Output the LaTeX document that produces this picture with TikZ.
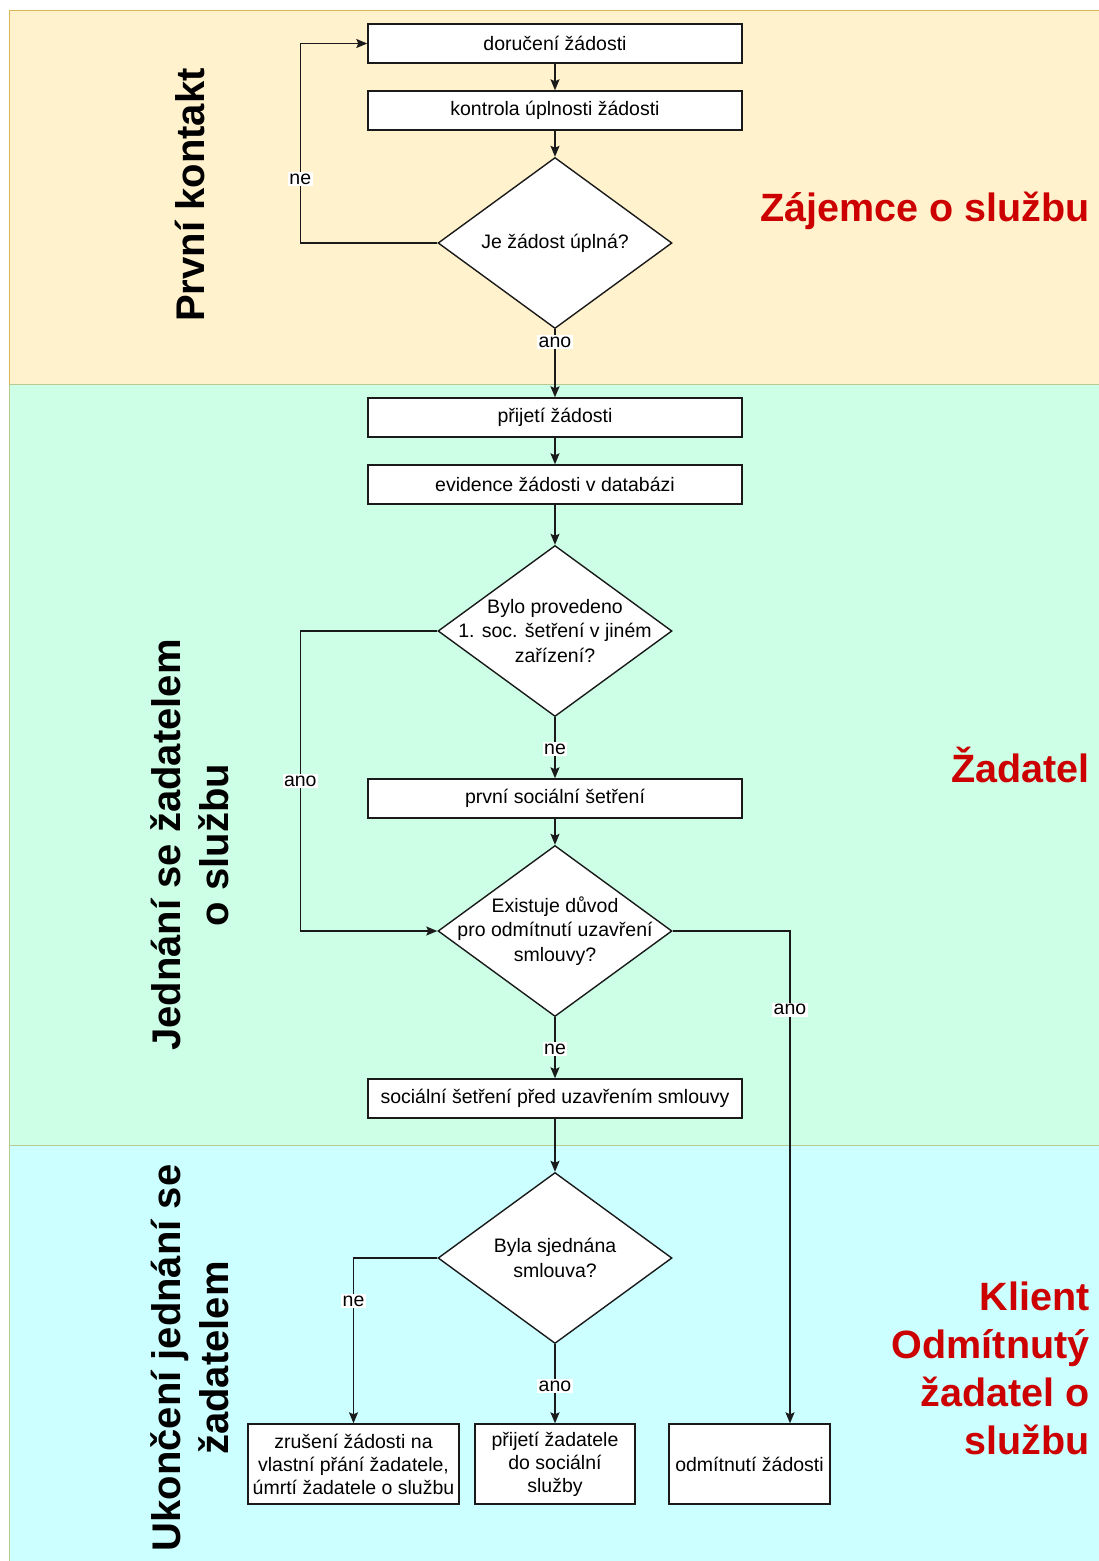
\documentclass[tikz,border=0pt]{standalone}
\usepackage{fontspec}
\setmainfont{Liberation Sans}
\usetikzlibrary{arrows.meta,shapes.geometric,positioning}
\definecolor{laneA}{HTML}{FFF2CC}
\definecolor{laneAline}{HTML}{D6B656}
\definecolor{laneB}{HTML}{CCFFE6}
\definecolor{laneC}{HTML}{CCFFFF}
\definecolor{laneline}{HTML}{B9C98F}
\definecolor{roletext}{HTML}{CC0000}
\definecolor{flowline}{HTML}{1A1A1A}

\begin{document}
\begin{tikzpicture}[x=1pt,y=-1pt,>={Stealth[length=11pt,width=9pt,inset=2pt]}]
  \tikzset{
    stepbox/.style={draw=flowline, line width=1.4pt, fill=white,
      minimum width=374pt, minimum height=39pt, inner sep=0pt,
      font=\fontsize{19.5}{23}\selectfont},
    endbox/.style={stepbox, minimum height=80pt, align=center},
    decision/.style={diamond, draw=flowline, line width=1.4pt, fill=white,
      minimum width=234pt, minimum height=171pt, inner sep=0pt},
    dtext/.style={align=center, font=\fontsize{19.5}{24.5}\selectfont},
    flow/.style={->, draw=flowline, line width=1.4pt},
    answer/.style={fill=white, inner sep=1.5pt, font=\fontsize{19.5}{23}\selectfont},
    lanetitle/.style={rotate=90, align=center,
      font=\bfseries\fontsize{40}{48}\selectfont},
    role/.style={anchor=east, align=right, text=roletext,
      font=\bfseries\fontsize{39.5}{48}\selectfont},
  }
\useasboundingbox (0,0) rectangle (1099,1561);

% lanes
\draw[fill=laneA,draw=laneAline] (9,10) rectangle (1099,384);
\draw[fill=laneB,draw=laneline] (9,384) rectangle (1099,1145);
\draw[fill=laneC,draw=laneline] (9,1145) rectangle (1099,1561);

\node[lanetitle] (laneAt) at (190,195) {První kontakt};
\node[lanetitle] (laneBt) at (190,845) {Jednání se žadatelem\\o službu};
\node[lanetitle] (laneCt) at (190,1358) {Ukončení jednání se\\žadatelem};

\node[role] (roleA) at (1093,211) {Zájemce o službu};
\node[role] (roleB) at (1093,765) {Žadatel};
\node[role] (roleC) at (1093,1368) {Klient\\Odmítnutý\\žadatel o\\službu};

% steps
\node[stepbox] (dor) at (555,43.5) {doručení žádosti};
\node[stepbox] (kon) at (555,110.5) {kontrola úplnosti žádosti};
\node[decision] (d1) at (555,243) {};
\node[dtext] (d1t) at (d1) {Je žádost úplná?};

\node[stepbox] (prij) at (555,417.5) {přijetí žádosti};
\node[stepbox] (evid) at (555,484.5) {evidence žádosti v databázi};
\node[decision] (d2) at (555,631) {};
\node[dtext] (d2t) at (d2) {Bylo provedeno\\1. soc. šetření v jiném\\zařízení?};
\node[stepbox] (prv) at (555,798.5) {první sociální šetření};
\node[decision] (d3) at (555,931) {};
\node[dtext] (d3t) at (d3) {Existuje důvod\\pro odmítnutí uzavření\\smlouvy?};
\node[stepbox] (pred) at (555,1098.5) {sociální šetření před uzavřením smlouvy};

\node[decision] (d4) at (555,1258) {};
\node[dtext] (d4t) at (d4) {Byla sjednána\\smlouva?};
\node[endbox, minimum width=211pt] (zrus) at (353.5,1464)
  {zrušení žádosti na\\vlastní přání žadatele,\\úmrtí žadatele o službu};
\node[endbox, minimum width=160pt] (klient) at (555,1464)
  {přijetí žadatele\\do sociální\\služby};
\node[endbox, minimum width=161pt] (odm) at (749.5,1464) {odmítnutí žádosti};

% connectors
\draw[flow] (dor) -- (kon);
\draw[flow] (kon) -- (d1);
\draw[flow] (d1.west) -- ++(-137,0) |- node[answer,pos=0.16] (ne1) {ne} (dor.west);
\draw[flow] (d1.south) -- node[answer,pos=0.19] (ano1) {ano} (prij.north);
\draw[flow] (prij) -- (evid);
\draw[flow] (evid) -- (d2);
\draw[flow] (d2.south) -- node[answer,pos=0.52] (ne2) {ne} (prv.north);
\draw[flow] (d2.west) -- ++(-137,0) |- node[answer,pos=0.25] (ano2) {ano} (d3.west);
\draw[flow] (prv) -- (d3);
\draw[flow] (d3.south) -- node[answer,pos=0.52] (ne3) {ne} (pred.north);
\draw[flow] (d3.east) -| node[answer,pos=0.58] (ano3) {ano} ([xshift=40.5pt]odm.north);
\draw[flow] (pred) -- (d4);
\draw[flow] (d4.west) -| node[answer,pos=0.63] (ne4) {ne} (zrus.north);
\draw[flow] (d4.south) -- node[answer,pos=0.53] (ano4) {ano} (klient.north);

\end{tikzpicture}
\end{document}
